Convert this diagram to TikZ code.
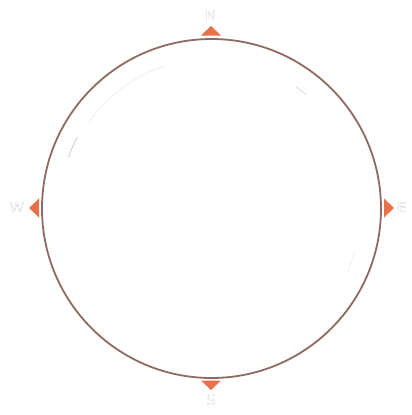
\documentclass[tikz,border=0pt]{standalone}
\usepackage{fontspec}
\setsansfont{DejaVu Sans}
\usepackage[outline]{contour}
\contourlength{0.7pt}
\definecolor{ring}{HTML}{8E6A60}
\definecolor{mark}{HTML}{E8704A}
\definecolor{lbl}{HTML}{8C8C8C}
\begin{document}
\begin{tikzpicture}[x=1bp,y=-1bp,
  pointer/.style={fill=mark,draw=none},
  dirlabel/.style={font=\sffamily\fontsize{15}{15}\selectfont,inner sep=0pt},
  shine/.style={draw=black!12,line width=0.9bp,line cap=round}]
\useasboundingbox (0,0) rectangle (412,415);
\fill[white] (0,0) rectangle (412,415);
\coordinate (c) at (211.5,208.5);
\draw[ring,line width=1.8bp] (c) circle[radius=169.5];
% faint inner shine (angles negated because y points down)
\draw[shine,draw=black!18] (c) ++(-160:152) arc[start angle=-160,end angle=-152,radius=152];
\draw[shine,draw=black!6] (c) ++(-145:150) arc[start angle=-145,end angle=-108,radius=150];
\draw[shine] (c) ++(-55:148) arc[start angle=-55,end angle=-50,radius=148];
\draw[shine,draw=black!5] (c) ++(25:150) arc[start angle=25,end angle=17,radius=150];
% pointers
\coordinate (pn) at (211,26);
\coordinate (pw) at (29,208);
\coordinate (pe) at (394,208);
\coordinate (ps) at (211,390);
\fill[pointer] (pn) -- ++(-10,9.5) -- ++(20,0) -- cycle;
\fill[pointer] (pw) -- ++(10,-9.5) -- ++(0,19) -- cycle;
\fill[pointer] (pe) -- ++(-10,-9.5) -- ++(0,19) -- cycle;
\fill[pointer] (ps) -- ++(-10,-9.5) -- ++(20,0) -- cycle;
% labels
\node[dirlabel] (ln) at (211,16) {\contour{lbl}{\color{white}N}};
\node[dirlabel] (lw) at (17,208.5) {\contour{lbl}{\color{white}W}};
\node[dirlabel] (le) at (402,208.5) {\contour{lbl}{\color{white}E}};
\node[dirlabel,rotate=180] (ls) at (211,400) {\contour{lbl}{\color{white}S}};
\end{tikzpicture}
\end{document}
